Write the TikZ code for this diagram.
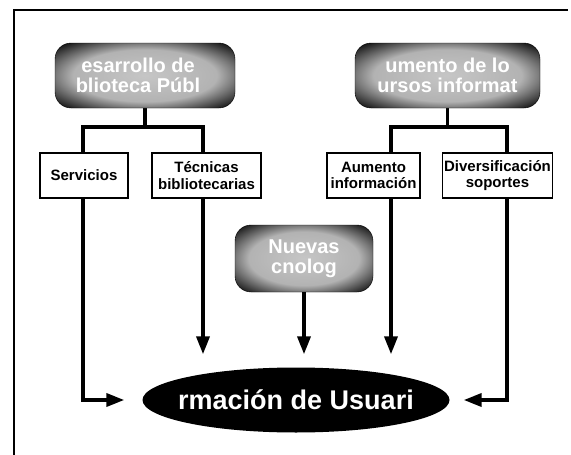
\documentclass[tikz,border=0pt]{standalone}
\usepackage{fontspec}
\setmainfont{Liberation Sans}
\usetikzlibrary{arrows.meta,shapes.geometric,backgrounds}

\pgfdeclareradialshading{glow}{\pgfpoint{0bp}{0bp}}{%
  color(0bp)=(gray!45); color(20bp)=(gray!60); color(35bp)=(black); color(50bp)=(black)}

\tikzset{
  darkbox/.style={rounded corners=16pt, shade, shading=glow, draw=black, inner sep=0pt},
  darktext/.style={text=white, font=\bfseries\fontsize{20}{20.5}\selectfont, align=center, inner sep=0pt},
  smallbox/.style={draw, line width=1.6pt, fill=white, align=center, inner sep=1.5pt,
    minimum height=45pt, font=\bfseries\fontsize{15}{16.5}\selectfont},
  conn/.style={line width=3.5pt},
  arr/.style={line width=3.5pt, -{Triangle[length=18pt,width=13pt]}},
}

\begin{document}
\begin{tikzpicture}[x=1pt,y=-1pt]
\useasboundingbox (0,0) rectangle (571,455);
\draw[line width=1.3pt] (14,455) -- (14,10) -- (568,10);

% upper boxes
\node[darkbox, minimum width=180pt, minimum height=65pt] (desarrollo) at (145,75.5) {};
\node[darktext] (desarrollotxt) at ([xshift=-7pt]desarrollo.center) {esarrollo de\\blioteca Públ};
\node[darkbox, minimum width=185pt, minimum height=65pt] (recursos) at (447.5,75.5) {};
\node[darktext] (recursostxt) at (recursos.center) {umento de lo\\ursos informat};

\node[smallbox, minimum width=88pt] (servicios) at (84,175.5) {Servicios};
\node[smallbox, minimum width=109pt] (tecnicas) at (206.5,175.5) {Técnicas\\bibliotecarias};
\node[smallbox, minimum width=93pt] (aumento) at (373.5,175.5) {Aumento\\información};
\node[smallbox, minimum width=109pt] (diversif) at (497.5,175.5) {Diversificación\\soportes};

\node[darkbox, minimum width=138pt, minimum height=67pt] (nuevas) at (304,258.5) {};
\node[darktext] (nuevastxt) at (nuevas.center) {Nuevas\\cnolog};

% lower ellipse
\node[ellipse, fill=black, minimum width=307pt, minimum height=65pt, inner sep=0pt] (formacion) at (296,400) {};
\node[text=white, inner sep=0pt, font=\bfseries\fontsize{27}{28}\selectfont] (formaciontxt) at (formacion.center) {rmación de Usuari};

% connectors
\coordinate (sl) at (83,127);
\coordinate (sr) at (203,127);
\coordinate (al) at (391,127);
\coordinate (ar) at (507,127);
\begin{scope}[on background layer]
\draw[conn] (desarrollo.south) -- (desarrollo.south |- sl);
\draw[conn, line cap=rect] (sl) -- (sr);
\draw[arr] (sl) |- ([xshift=-18pt]formacion.west);
\draw[arr, shorten >=13pt] (sr) -- (sr |- formacion.north);

\draw[conn] (recursos.south) -- (recursos.south |- al);
\draw[conn, line cap=rect] (al) -- (ar);
\draw[arr, shorten >=13pt] (al) -- (al |- formacion.north);
\draw[arr] (ar) |- ([xshift=14pt]formacion.east);
\end{scope}

\draw[arr, shorten >=13pt] (nuevas.south) -- (nuevas.south |- formacion.north);
\end{tikzpicture}
\end{document}
